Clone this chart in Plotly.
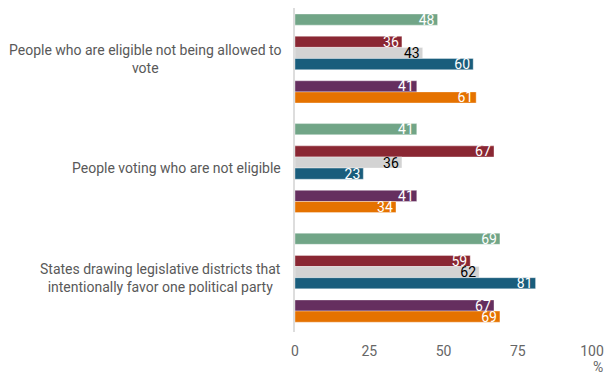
import plotly.graph_objects as go

categories = [
    "People who are eligible not being allowed to<br>vote",
    "People voting who are not eligible",
    "States drawing legislative districts that<br>intentionally favor one political party",
]

series_names = ["Series 1", "Series 2", "Series 3", "Series 4", "Series 5", "Series 6"]
series_values = [
    [48, 41, 69],
    [36, 67, 59],
    [43, 36, 62],
    [60, 23, 81],
    [41, 41, 67],
    [61, 34, 69],
]
series_colors = ["#71A587", "#8A2733", "#D3D3D3", "#195D7C", "#652F5F", "#E57200"]
series_text_colors = ["white", "white", "black", "white", "white", "white"]
series_slots = [0, 2, 3, 4, 6, 7]

x_ticks = [0, 25, 50, 75, 100]

CAT_STEP = 9.85
GROUP_SPAN = 7

fig = go.Figure()
for name, vals, col, tcol, slot in zip(series_names, series_values, series_colors,
                                       series_text_colors, series_slots):
    fig.add_trace(go.Bar(
        name=name,
        x=vals,
        y=[i * CAT_STEP + slot for i in range(len(categories))],
        orientation="h",
        width=1,
        marker=dict(color=col, line=dict(color="rgba(255,255,255,0.45)", width=0.8)),
        text=[str(v) for v in vals],
        textposition="inside",
        insidetextanchor="end",
        textangle=0,
        constraintext="none",
        textfont=dict(family="Roboto", size=14, color=tcol),
        hoverinfo="x+name",
    ))

for i, cat in enumerate(categories):
    fig.add_annotation(
        text=cat, xref="paper", x=0, xanchor="right", xshift=-12,
        yref="y", y=i * CAT_STEP + GROUP_SPAN / 2, yanchor="middle",
        align="center", showarrow=False,
        font=dict(family="Roboto", size=14, color="#595959"),
    )

fig.add_annotation(
    text="%", xref="paper", x=1, xanchor="center", xshift=6,
    yref="paper", y=0, yanchor="middle", yshift=-35,
    showarrow=False, font=dict(family="Roboto", size=14, color="#666666"),
)

fig.update_layout(
    width=604, height=366,
    margin=dict(l=287, r=20, t=0, b=42, autoexpand=False),
    paper_bgcolor="white", plot_bgcolor="white",
    showlegend=False,
    barmode="overlay",
    xaxis=dict(range=[0, 100], tickvals=x_ticks, ticktext=[str(t) for t in x_ticks],
               showgrid=False, zeroline=False, showline=False,
               tickfont=dict(family="Roboto", size=14, color="#666666"),
               ticks="", ticklabelstandoff=9, fixedrange=True, automargin=False),
    yaxis=dict(range=[28.08, -1.04], showticklabels=False, showgrid=False,
               zeroline=False, showline=True, linecolor="#DDDDDD", linewidth=2,
               ticks="", fixedrange=True, automargin=False),
    font=dict(family="Roboto"),
)

fig.write_html("out.html")
